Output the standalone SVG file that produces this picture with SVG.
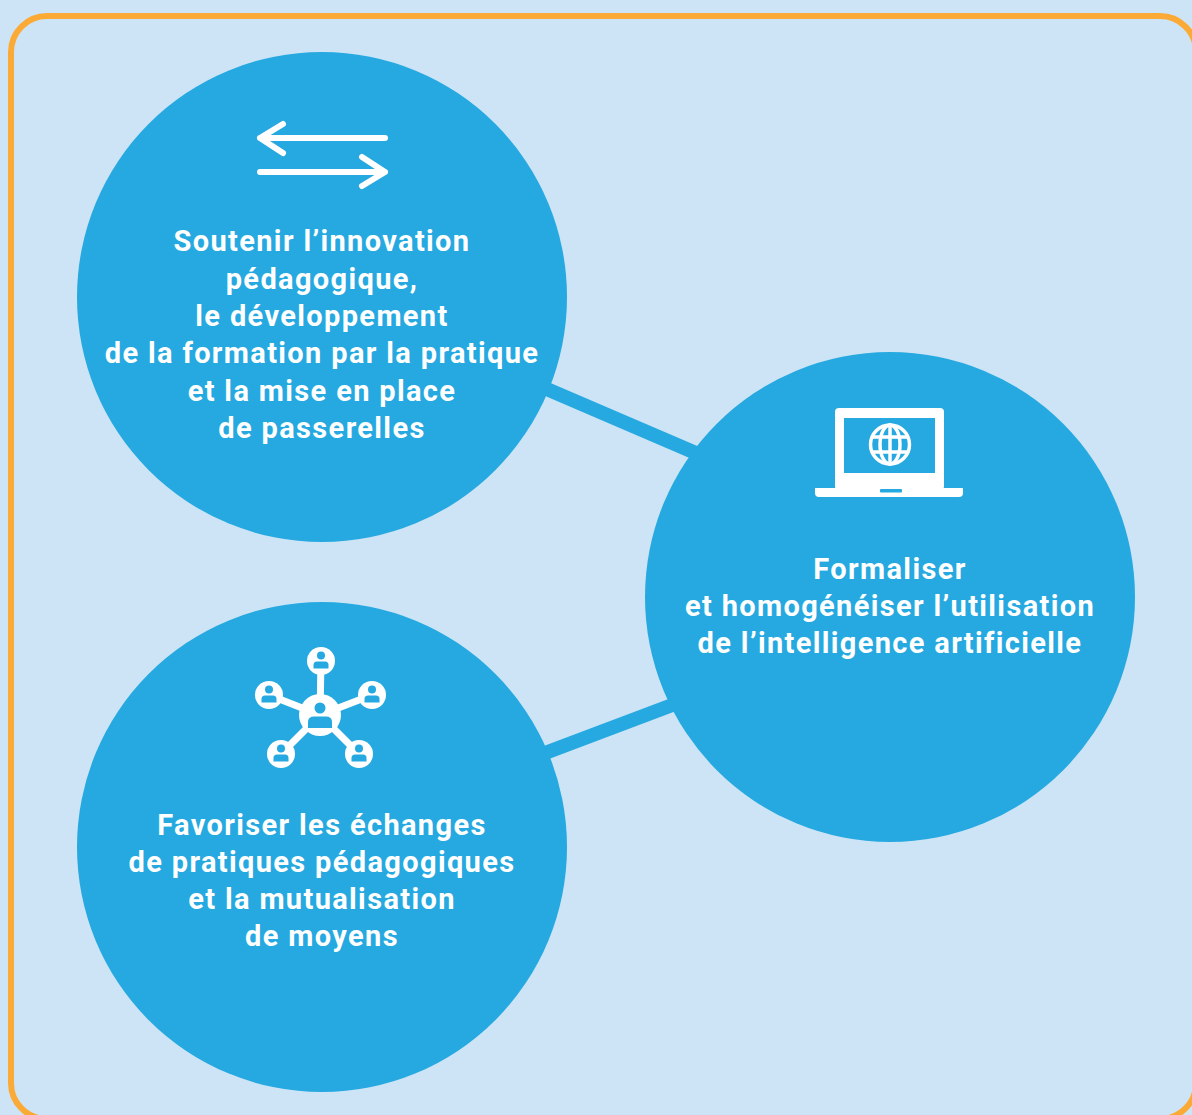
<svg xmlns="http://www.w3.org/2000/svg" width="1192" height="1115" viewBox="0 0 1192 1115">
<style>
.bg{fill:#cde4f6}
.frame{fill:none;stroke:#fbab35;stroke-width:6}
.node{fill:#25a9e0}
.conn{stroke:#25a9e0;stroke-width:14;fill:none}
.lbl{font-family:Roboto,"Liberation Sans",sans-serif;font-weight:700;font-size:29px;letter-spacing:1.35px;fill:#ffffff;text-anchor:middle}
.ico{fill:none;stroke:#ffffff;stroke-linecap:round;stroke-linejoin:round}
.w{fill:#ffffff}
.b{fill:#25a9e0}
</style>
<rect class="bg" x="0" y="0" width="1192" height="1115"/>
<rect class="frame" x="11" y="16" width="1185" height="1103" rx="36"/>
<g id="connectors">
<line class="conn" x1="500" y1="369" x2="740" y2="472"/>
<line class="conn" x1="500" y1="770" x2="720" y2="687"/>
</g>
<g id="node-innovation">
<circle class="node" cx="322" cy="297" r="245"/>
<g class="ico" stroke-width="6">
<path d="M260 138 H385 M283 124 L260 138 L283 153"/>
<path d="M260 172 H385 M362 157 L385 172 L362 186"/>
</g>
<text class="lbl"><tspan x="322" y="251">Soutenir l’innovation</tspan><tspan x="322" y="289">pédagogique,</tspan><tspan x="322" y="326">le développement</tspan><tspan x="322" y="363">de la formation par la pratique</tspan><tspan x="322" y="401">et la mise en place</tspan><tspan x="322" y="438">de passerelles</tspan></text>
</g>
<g id="node-ia">
<circle class="node" cx="890" cy="597" r="245"/>
<rect class="w" x="835" y="408" width="109" height="82" rx="4"/>
<rect class="b" x="844" y="418" width="91" height="55"/>
<path class="w" d="M815 488 H963 V493 Q963 497 959 497 H819 Q815 497 815 493 Z"/>
<rect class="b" x="880" y="489" width="22" height="3.5" rx="1"/>
<g class="ico" stroke-width="3.5">
<circle cx="890" cy="444.5" r="19.5"/>
<ellipse cx="890" cy="444.5" rx="10" ry="19.5"/>
<line x1="890" y1="425" x2="890" y2="464"/>
<line x1="873" y1="437" x2="907" y2="437"/>
<line x1="873" y1="452" x2="907" y2="452"/>
</g>
<text class="lbl"><tspan x="890" y="579">Formaliser</tspan><tspan x="890" y="616">et homogénéiser l’utilisation</tspan><tspan x="890" y="653">de l’intelligence artificielle</tspan></text>
</g>
<g id="node-echanges">
<circle class="node" cx="322" cy="847" r="245"/>
<g stroke="#ffffff" stroke-width="7">
<line x1="320" y1="715" x2="321" y2="661"/>
<line x1="320" y1="715" x2="269" y2="695"/>
<line x1="320" y1="715" x2="372" y2="695"/>
<line x1="320" y1="715" x2="281" y2="754"/>
<line x1="320" y1="715" x2="359" y2="754"/>
</g>
<circle class="w" cx="320" cy="715" r="21"/>
<circle class="w" cx="321" cy="661" r="14"/>
<circle class="w" cx="269" cy="695" r="14"/>
<circle class="w" cx="372" cy="695" r="14"/>
<circle class="w" cx="281" cy="754" r="14"/>
<circle class="w" cx="359" cy="754" r="14"/>
<g class="b">
<circle cx="320" cy="708" r="5.5"/>
<path d="M308 728 V722 Q308 716.5 314 716.5 H326 Q332 716.5 332 722 V728 Z"/>
<circle cx="321" cy="655.5" r="4"/>
<path d="M313.5 668.5 V665 Q313.5 661.5 317 661.5 H325 Q328.5 661.5 328.5 665 V668.5 Z"/>
<circle cx="269" cy="689.5" r="4"/>
<path d="M261.5 702.5 V699 Q261.5 695.5 265 695.5 H273 Q276.5 695.5 276.5 699 V702.5 Z"/>
<circle cx="372" cy="689.5" r="4"/>
<path d="M364.5 702.5 V699 Q364.5 695.5 368 695.5 H376 Q379.5 695.5 379.5 699 V702.5 Z"/>
<circle cx="281" cy="748.5" r="4"/>
<path d="M273.5 761.5 V758 Q273.5 754.5 277 754.5 H285 Q288.5 754.5 288.5 758 V761.5 Z"/>
<circle cx="359" cy="748.5" r="4"/>
<path d="M351.5 761.5 V758 Q351.5 754.5 355 754.5 H363 Q366.5 754.5 366.5 758 V761.5 Z"/>
</g>
<text class="lbl"><tspan x="322" y="835">Favoriser les échanges</tspan><tspan x="322" y="872">de pratiques pédagogiques</tspan><tspan x="322" y="909">et la mutualisation</tspan><tspan x="322" y="946">de moyens</tspan></text>
</g>
</svg>
